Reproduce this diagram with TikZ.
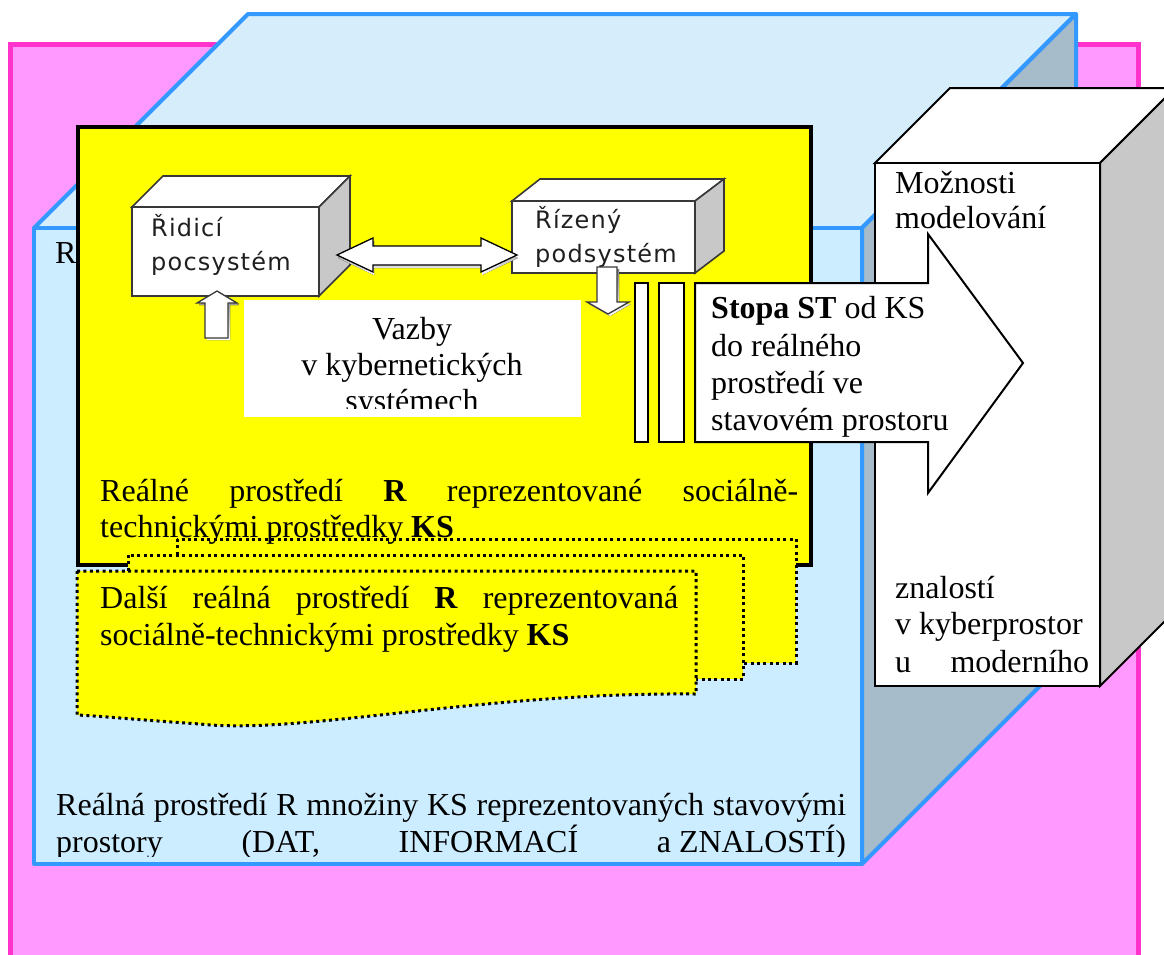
\documentclass[tikz,border=0pt]{standalone}
\usepackage{fontspec}
\setmainfont{Liberation Serif}
\newfontfamily\boxfont[LetterSpace=5]{DejaVu Sans}
\definecolor{pinkfill}{HTML}{FF99FF}
\definecolor{pinkline}{HTML}{FF33CC}
\definecolor{blueline}{HTML}{3399FF}
\definecolor{bluefront}{HTML}{CCECFF}
\definecolor{bluetop}{HTML}{D6EEFC}
\definecolor{blueside}{HTML}{A6BCCB}
\definecolor{cubeside}{HTML}{C8C8C8}
\definecolor{boxline}{HTML}{383838}
\definecolor{shade}{HTML}{8A8A8A}
\definecolor{panel}{HTML}{FFFF00}
\begin{document}
\begin{tikzpicture}[x=1pt,y=-1pt,
  txt/.style={font=\fontsize{32}{37}\selectfont, inner sep=0pt, anchor=base west},
  ctxt/.style={font=\fontsize{32}{37}\selectfont, inner sep=0pt, anchor=base},
  boxtxt/.style={font=\boxfont\fontsize{24}{28}\selectfont, inner sep=0pt, anchor=base west, text=black!88},
  bluebox/.style={draw=blueline, line width=4pt, line join=round},
  cube/.style={draw=black, line width=2pt, line join=miter},
  smallbox/.style={draw=boxline, line width=1.6pt, line join=miter},
  page/.style={fill=panel, draw=black, line width=3pt, dash pattern=on 3pt off 3.4pt},
  blockarrow/.style={fill=white, draw=boxline, line width=1.3pt, line join=miter},
  bar/.style={fill=white, draw=black, line width=1.5pt}]

\useasboundingbox (0,0) rectangle (1164,954);
\clip (0,0) rectangle (1164,954);

% outer pink frame
\draw[fill=pinkfill, draw=pinkline, line width=5pt] (10,44) rectangle (1138,990);

% light blue block: top, right side and front faces
\draw[bluebox, fill=bluetop] (34,228) -- (248,14) -- (1076,14) -- (862,228) -- cycle;
\draw[bluebox, fill=blueside] (862,228) -- (1076,14) -- (1076,650) -- (862,864) -- cycle;
\draw[bluebox, fill=bluefront] (34,228) rectangle (862,864);

\node[txt] (rfront) at (55,263) {R};
\begin{scope}
  \clip (36,700) rectangle (860,856);
  \node[txt] (bottom1) at (56,815) {\makebox[790pt][s]{Reálná prostředí R množiny KS reprezentovaných stavovými}};
  \node[txt] (bottom2) at (56,852) {\makebox[790pt][s]{prostory (DAT, INFORMACÍ \mbox{a ZNALOSTÍ)}}};
\end{scope}

% white block on the right
\draw[cube, fill=white] (875,163) -- (950,88) -- (1175,88) -- (1100,163) -- cycle;
\draw[cube, fill=cubeside] (1100,163) -- (1175,88) -- (1175,611) -- (1100,686) -- cycle;
\draw[cube, fill=white] (875,163) rectangle (1100,686);

% yellow panel
\draw[fill=panel, draw=black, line width=4.5pt] (78,127) rectangle (811,565);

% stacked pages
\draw[page] (177,539) rectangle (796,663);
\draw[page] (128,555) rectangle (743,679);
\draw[page] (77,571) -- (696,571) -- (696,694)
  .. controls (480,692) and (300,735) .. (200,724)
  .. controls (140,720) and (100,716) .. (77,715) -- cycle;

\node[txt] (real1) at (100,501) {\makebox[698pt][s]{Reálné prostředí \textbf{R} reprezentované sociálně-}};
\node[txt] (real2) at (100,537) {technickými prostředky \textbf{KS}};
\node[txt] (dalsi1) at (100,608) {\makebox[578pt][s]{Další reálná prostředí \textbf{R} reprezentovaná}};
\node[txt] (dalsi2) at (100,645) {sociálně-technickými prostředky \textbf{KS}};

% control subsystem block
\draw[smallbox, fill=white] (132,207) -- (163,176) -- (350,176) -- (319,207) -- cycle;
\draw[smallbox, fill=cubeside] (319,207) -- (350,176) -- (350,265) -- (319,296) -- cycle;
\draw[smallbox, fill=white] (132,207) rectangle (319,296);
\node[boxtxt] (ridici1) at (151,236) {Řidicí};
\node[boxtxt] (ridici2) at (151,270) {pocsystém};

% controlled subsystem block
\draw[smallbox, fill=white] (512,201) -- (540,179) -- (724,179) -- (695,201) -- cycle;
\draw[smallbox, fill=cubeside] (695,201) -- (724,179) -- (724,251) -- (695,273) -- cycle;
\draw[smallbox, fill=white] (512,201) rectangle (695,273);
\node[boxtxt] (rizeny1) at (535,228) {Řízený};
\node[boxtxt] (rizeny2) at (535,262) {podsystém};

% double block arrow between the subsystems
\begin{scope}[shift={(1,3)}]
  \fill[shade] (337,255) -- (373,238) -- (373,246) -- (481,246) -- (481,238) -- (517,255)
    -- (481,272) -- (481,265) -- (373,265) -- (373,272) -- cycle;
\end{scope}
\draw[blockarrow, draw=black] (337,255) -- (373,238) -- (373,246) -- (481,246) -- (481,238) -- (517,255)
  -- (481,272) -- (481,265) -- (373,265) -- (373,272) -- cycle;

% up arrow into the control subsystem
\fill[shade] (219,293) -- (239,305) -- (230,305) -- (230,340) -- (207,340) -- (207,305) -- (199,305) -- cycle;
\draw[blockarrow] (217,291) -- (237,303) -- (228,303) -- (228,338) -- (205,338) -- (205,303) -- (197,303) -- cycle;

% down arrow out of the controlled subsystem
\fill[shade] (599,269) -- (619,269) -- (619,304) -- (631,304) -- (610,316) -- (589,304) -- (599,304) -- cycle;
\draw[blockarrow] (597,267) -- (617,267) -- (617,302) -- (629,302) -- (608,314) -- (587,302) -- (597,302) -- cycle;

% caption of the couplings
\fill[white] (244,300) rectangle (581,417);
\begin{scope}
  \clip (244,300) rectangle (581,408);
  \node[ctxt] (vazby1) at (412,339) {Vazby};
  \node[ctxt] (vazby2) at (412,375) {v kybernetických};
  \node[ctxt] (vazby3) at (412,411) {systémech};
\end{scope}

% two narrow bars
\draw[bar] (635,283) rectangle (648,442);
\draw[bar] (659,283) rectangle (684,442);

% trace callout arrow
\draw[fill=white, draw=black, line width=2pt, line join=miter]
  (695,283) -- (928,283) -- (928,234) -- (1023,363) -- (928,493) -- (928,442) -- (695,442) -- cycle;
\node[txt] (stopa1) at (711,318) {\textbf{Stopa ST} od KS};
\node[txt] (stopa2) at (711,356) {do reálného};
\node[txt] (stopa3) at (711,393) {prostředí ve};
\node[txt] (stopa4) at (711,430) {stavovém prostoru};

% text on the white block
\node[txt] (mozn1) at (895,193) {Možnosti};
\node[txt] (mozn2) at (895,228) {modelování};
\node[txt] (zn1) at (895,598) {znalostí};
\node[txt] (zn2) at (895,634) {v kyberprostor};
\node[txt] (zn3) at (895,672) {\makebox[194pt][s]{u moderního}};
\end{tikzpicture}
\end{document}
